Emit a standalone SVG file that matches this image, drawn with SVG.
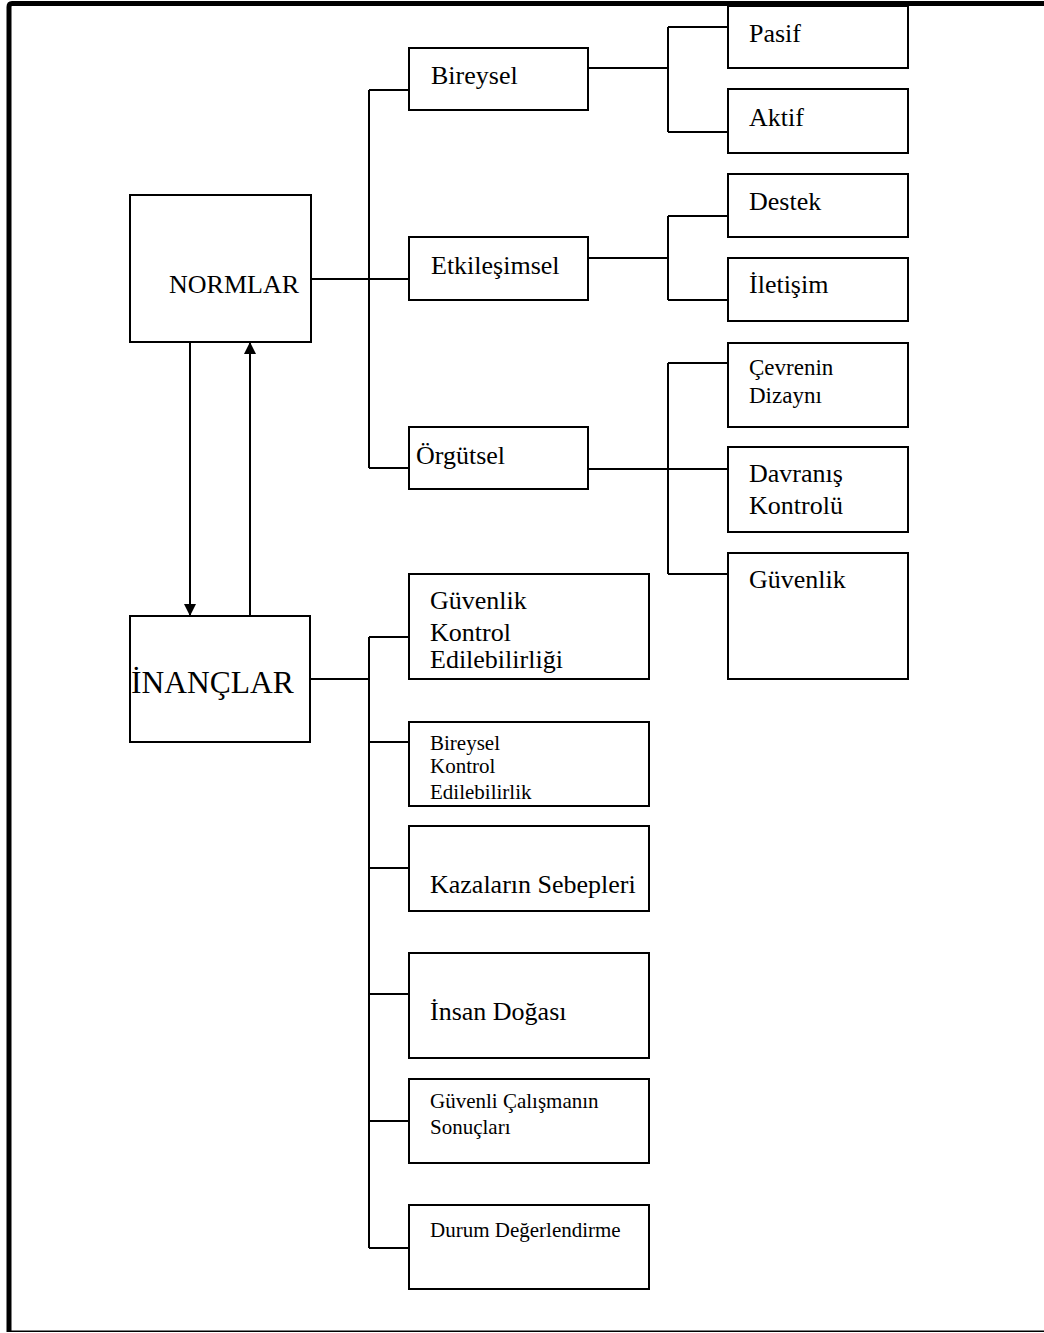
<svg xmlns="http://www.w3.org/2000/svg" width="1044" height="1333" viewBox="0 0 1044 1333">
<style>
.box{fill:#fff;stroke:#000;stroke-width:2}
.ln{fill:none;stroke:#000;stroke-width:2}
text{font-family:"Liberation Serif","Times New Roman",serif;fill:#000}
.t26{font-size:26px}
.t21{font-size:21px}
.t23{font-size:23px}
</style>
<defs>
<marker id="ah" viewBox="0 0 12 12" refX="12" refY="6" markerWidth="12" markerHeight="12" markerUnits="userSpaceOnUse" orient="auto">
<path d="M0,0 L12,6 L0,12 Z" fill="#000"/>
</marker>
</defs>
<rect width="1044" height="1333" fill="#fff"/>
<g id="frame">
<path d="M1044,3.5 L12,3.5 Q9,3.5 9,7 L9,1332" fill="none" stroke="#000" stroke-width="5"/>
<line x1="9" y1="1331.3" x2="1044" y2="1331.3" stroke="#000" stroke-width="1.6"/>
</g>
<g id="connectors">
<path class="ln" d="M310,279 H409 M369,90 V468 M369,90 H409 M369,468 H409"/>
<path class="ln" d="M588,68 H668 M668,27 V132 M668,27 H728 M668,132 H728"/>
<path class="ln" d="M588,258 H668 M668,216 V300 M668,216 H728 M668,300 H728"/>
<path class="ln" d="M588,469 H728 M668,363 V574 M668,363 H728 M668,574 H728"/>
<path class="ln" d="M310,679 H369 M369,637 V1248 M369,637 H409 M369,742 H409 M369,868 H409 M369,994 H409 M369,1121 H409 M369,1248 H409"/>
<line class="ln" x1="190" y1="342" x2="190" y2="616" marker-end="url(#ah)"/>
<line class="ln" x1="250" y1="616" x2="250" y2="342" marker-end="url(#ah)"/>
</g>
<g id="normlar"><rect class="box" x="130" y="195" width="181" height="147"/><text class="t26" x="169" y="293">NORMLAR</text></g>
<g id="inanclar"><rect class="box" x="130" y="616" width="180" height="126"/><text x="131" y="693" font-size="31.5">İNANÇLAR</text></g>
<g id="bireysel"><rect class="box" x="409" y="48" width="179" height="62"/><text class="t26" x="431" y="84">Bireysel</text></g>
<g id="etkilesimsel"><rect class="box" x="409" y="237" width="179" height="63"/><text class="t26" x="431" y="274">Etkileşimsel</text></g>
<g id="orgutsel"><rect class="box" x="409" y="427" width="179" height="62"/><text class="t26" x="416" y="464">Örgütsel</text></g>
<g id="pasif"><rect class="box" x="728" y="6" width="180" height="62"/><text class="t26" x="749" y="42">Pasif</text></g>
<g id="aktif"><rect class="box" x="728" y="89" width="180" height="64"/><text class="t26" x="749" y="126">Aktif</text></g>
<g id="destek"><rect class="box" x="728" y="174" width="180" height="63"/><text class="t26" x="749" y="210">Destek</text></g>
<g id="iletisim"><rect class="box" x="728" y="258" width="180" height="63"/><text class="t26" x="749" y="293">İletişim</text></g>
<g id="cevrenin"><rect class="box" x="728" y="343" width="180" height="84"/><text class="t23" x="749" y="375">Çevrenin</text><text class="t23" x="749" y="403">Dizaynı</text></g>
<g id="davranis"><rect class="box" x="728" y="447" width="180" height="85"/><text class="t26" x="749" y="482">Davranış</text><text class="t26" x="749" y="514">Kontrolü</text></g>
<g id="guvenlik"><rect class="box" x="728" y="553" width="180" height="126"/><text class="t26" x="749" y="588">Güvenlik</text></g>
<g id="guvenlik-kontrol"><rect class="box" x="409" y="574" width="240" height="105"/><text class="t26" x="430" y="609">Güvenlik</text><text class="t26" x="430" y="641">Kontrol</text><text class="t26" x="430" y="668">Edilebilirliği</text></g>
<g id="bireysel-kontrol"><rect class="box" x="409" y="722" width="240" height="84"/><text class="t21" x="430" y="750">Bireysel</text><text class="t21" x="430" y="773">Kontrol</text><text class="t21" x="430" y="799">Edilebilirlik</text></g>
<g id="kazalar"><rect class="box" x="409" y="826" width="240" height="85"/><text class="t26" x="430" y="893">Kazaların Sebepleri</text></g>
<g id="insan"><rect class="box" x="409" y="953" width="240" height="105"/><text class="t26" x="430" y="1020">İnsan Doğası</text></g>
<g id="guvenli-calisma"><rect class="box" x="409" y="1079" width="240" height="84"/><text class="t21" x="430" y="1108">Güvenli Çalışmanın</text><text class="t21" x="430" y="1134">Sonuçları</text></g>
<g id="durum"><rect class="box" x="409" y="1205" width="240" height="84"/><text class="t21" x="430" y="1237">Durum Değerlendirme</text></g>
</svg>
